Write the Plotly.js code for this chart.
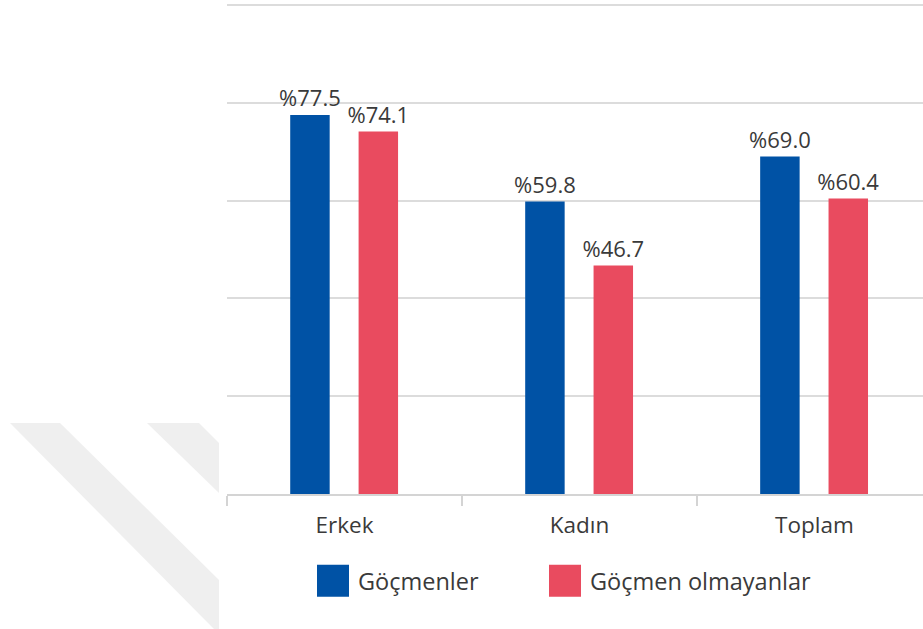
<!DOCTYPE html>
<html>
<head>
<meta charset="utf-8">
<script src="https://cdn.plot.ly/plotly-3.0.1.min.js"></script>
<style>html,body{margin:0;padding:0;background:#fff;}#chart{width:923px;height:629px;}</style>
</head>
<body>
<div id="chart"></div>
<script>
var categories = ['Erkek', 'Kadın', 'Toplam'];
var seriesNames = ['Göçmenler', 'Göçmen olmayanlar'];
var gocmenler = [77.5, 59.8, 69.0];
var gocmenOlmayanlar = [74.1, 46.7, 60.4];
var colors = ['#0052A5', '#E94B5F'];

function pct(arr) { return arr.map(function (v) { return '%' + v.toFixed(1); }); }

var L = 227, T = 0, W = 923, H = 629, B = 135;
var plotW = W - L, plotH = H - T - B;
function px(x) { return (x - L) / plotW; }
function py(y) { return (H - B - y) / plotH; }
function poly(pts) {
  return 'M' + pts.map(function (p) { return px(p[0]) + ',' + py(p[1]); }).join('L') + 'Z';
}

var FAM = 'Open Sans, sans-serif';
var labelFont = { family: FAM, size: 22, color: '#3a3a3a' };

var traces = [
  {
    type: 'bar', name: seriesNames[0], x: categories, y: gocmenler,
    marker: { color: colors[0] }, width: 0.168, offset: -0.231,
    text: pct(gocmenler), textposition: 'outside', textfont: labelFont,
    constraintext: 'none', cliponaxis: false, hoverinfo: 'x+y'
  },
  {
    type: 'bar', name: seriesNames[1], x: categories, y: gocmenOlmayanlar,
    marker: { color: colors[1] }, width: 0.168, offset: 0.060,
    text: pct(gocmenOlmayanlar), textposition: 'outside', textfont: labelFont,
    constraintext: 'none', cliponaxis: false, hoverinfo: 'x+y'
  }
];

var layout = {
  width: W, height: H,
  margin: { l: L, r: 0, t: T, b: B, pad: 0 },
  paper_bgcolor: '#fff', plot_bgcolor: 'rgba(0,0,0,0)',
  font: { family: FAM, size: 22, color: '#3a3a3a' },
  showlegend: true,
  barmode: 'group',
  xaxis: {
    type: 'category', range: [-0.5, 2.462],
    showline: true, linecolor: '#d4d4d4', linewidth: 2,
    ticks: 'outside', tickson: 'boundaries', ticklen: 10, tickcolor: '#d4d4d4', tickwidth: 2,
    ticklabelstandoff: 10,
    showgrid: false, tickfont: { family: FAM, size: 22.5, color: '#3a3a3a' },
    fixedrange: true
  },
  yaxis: {
    range: [0, 101], dtick: 20, tick0: 0,
    showgrid: true, gridcolor: '#dcdcdc', gridwidth: 2,
    zeroline: false, showticklabels: false, ticks: '', showline: false,
    fixedrange: true
  },
  legend: {
    orientation: 'h', x: px(318), xanchor: 'left', y: py(559), yanchor: 'top',
    font: { family: FAM, size: 23.5, color: '#3a3a3a' },
    itemwidth: 30, entrywidth: 187, entrywidthmode: 'pixels',
    bgcolor: 'rgba(0,0,0,0)', traceorder: 'normal'
  },
  shapes: [
    { type: 'path', xref: 'paper', yref: 'paper', layer: 'below',
      path: poly([[10, 423], [60, 423], [219, 580], [219, 629], [214, 629]]),
      fillcolor: '#efefef', line: { width: 0 } },
    { type: 'path', xref: 'paper', yref: 'paper', layer: 'below',
      path: poly([[147, 423], [199, 423], [219, 443], [219, 493]]),
      fillcolor: '#efefef', line: { width: 0 } }
  ]
};

Plotly.newPlot('chart', traces, layout, { displayModeBar: false, staticPlot: true }).then(function (gd) {
  gd.querySelectorAll('.legend [clip-path]').forEach(function (el) { el.removeAttribute('clip-path'); });
  gd.querySelectorAll('.legend .legendpoints path').forEach(function (p) {
    p.removeAttribute('transform');
    p.setAttribute('d', 'M-1,-16H31V16H-1Z');
    p.style.strokeWidth = '0px';
  });
});
</script>
</body>
</html>
